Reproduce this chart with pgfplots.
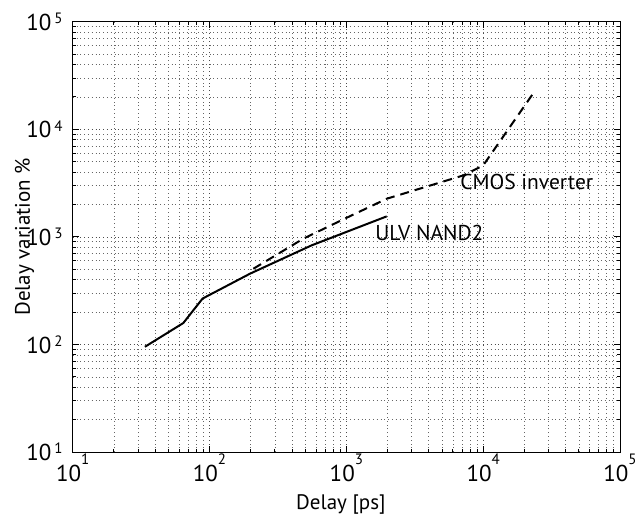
\documentclass[border=0pt]{standalone}
\usepackage{pgfplots}
\pgfplotsset{compat=1.18}
\usepackage{fontspec}
\setmainfont{PT Sans}
% MATLAB-style power-of-ten labels
\newcommand{\px}[1]{10\raisebox{0.72em}{\fontsize{15}{15}\selectfont #1}}
\newcommand{\py}[1]{10\hspace{3pt}\raisebox{0.3em}{\fontsize{15}{15}\selectfont #1}}

\begin{document}
\begin{tikzpicture}
\begin{axis}[
    at={(0,0)}, anchor=south west,
    scale only axis, width=547.3pt, height=430.3pt,
    xmode=log, ymode=log,
    xmin=10, xmax=1e5, ymin=10, ymax=1e5,
    xtick={10,100,1000,10000,100000},
    ytick={10,100,1000,10000,100000},
    xticklabels={\px{1},\px{2},\px{3},\px{4},\px{5}},
    yticklabels={\py{1},\py{2},\py{3},\py{4},\py{5}},
    minor xtick={20,30,40,50,60,70,80,90,200,300,400,500,600,700,800,900,2000,3000,4000,5000,6000,7000,8000,9000,20000,30000,40000,50000,60000,70000,80000,90000},
    minor ytick={20,30,40,50,60,70,80,90,200,300,400,500,600,700,800,900,2000,3000,4000,5000,6000,7000,8000,9000,20000,30000,40000,50000,60000,70000,80000,90000},
    grid=both,
    major grid style={black!70, line width=0.6pt, dash pattern=on 0.8pt off 3pt},
    minor grid style={black!60, line width=0.6pt, dash pattern=on 0.8pt off 3pt},
    tick align=inside,
    major tick length=6pt, minor tick length=3pt,
    tick style={black, line width=0.8pt},
    axis line style={line width=1pt},
    tick label style={font=\fontsize{23}{23}\selectfont},
    xticklabel style={inner sep=0pt, yshift=-2pt},
    yticklabel style={inner sep=0pt, xshift=-10pt},
    label style={font=\fontsize{21}{21}\selectfont},
    xlabel={Delay [ps]}, ylabel={Delay variation \%},
    xlabel style={at={(axis description cs:0.49,-0.123)}, anchor=center},
    ylabel style={at={(axis description cs:-0.088,0.5)}, anchor=center},
]
\addplot[black, line width=2pt] coordinates {
(33.7,95) (64.3,158) (89,267) (198,455) (558,834) (1972,1550)
};
\addplot[black, line width=2pt, dash pattern=on 9pt off 6pt] coordinates {
(209,505) (485,962) (1000,1500) (1972,2260) (7160,3725) (10000,4613) (23070,21330)
};
\node[anchor=west, font=\fontsize{21.5}{21.5}\selectfont, inner sep=0pt] at (axis cs:6780,3207) {CMOS inverter};
\node[anchor=west, font=\fontsize{21.5}{21.5}\selectfont, inner sep=0pt] at (axis cs:1622,1079) {ULV NAND2};
\end{axis}
\pgfresetboundingbox
\path[use as bounding box] (-72.7pt,-63pt) rectangle (565.3pt,452pt);
\end{tikzpicture}
\end{document}
